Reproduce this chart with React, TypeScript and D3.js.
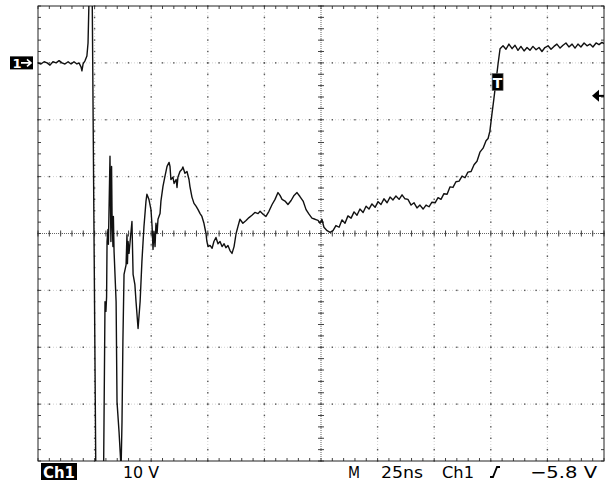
import React from 'react';
import * as d3 from 'd3';

// trace of channel 1, [time ns from left edge, volts]
const preTrigger: [number, number][] = [
  [0, 0], [1.3, -0.2], [2.7, 0.2], [4.0, 0], [5.3, -0.4], [6.6, 0.2], [8.0, 0], [9.3, 0.4],
  [10.6, 0], [11.9, -0.2], [13.3, 0.2], [14.6, -0.2], [15.9, 0.2], [17.2, -0.2], [18.1, 0],
  [19.0, -0.7], [19.4, -1.4], [19.9, -0.2], [20.8, 0.4], [21.6, 1.2], [22.1, 3.5],
];
const ringing: [number, number][] = [
  [22.7, 14], [23.9, 14], [25.6, -75], [28.9, -75], [29.6, -42.0], [30.0, -43.7], [30.3, -41.1],
  [30.5, -31.4], [30.9, -29.3], [31.1, -31.9], [31.8, -16.4], [32.2, -31.4], [32.5, -18.2],
  [32.7, -26.5], [33.1, -32.3], [33.3, -27.0], [33.6, -33.2], [34.5, -42.0], [34.9, -59.6],
  [35.8, -64.9], [36.7, -71.3], [37.1, -63.2], [37.5, -49.0], [38.0, -37.2], [38.9, -35.5],
  [39.3, -30.2], [39.5, -35.3], [39.8, -31.4], [40.2, -33.5], [41.1, -29.6], [41.5, -27.9],
  [42.0, -37.2], [42.8, -39.0], [43.3, -42.0], [44.2, -46.7], [45.1, -42.0], [45.9, -34.9],
  [46.8, -28.8], [47.7, -24.3], [48.1, -23.1], [49.0, -24.0], [49.9, -25.8], [50.4, -28.8],
  [50.8, -32.8], [51.2, -29.6], [51.7, -32.3], [52.1, -28.2], [52.6, -30.0], [53.0, -27.5],
];
const recovery: [number, number][] = [
  [53.9, -26.5], [54.3, -24.3], [55.2, -21.7], [56.1, -19.9], [57.0, -18.2], [57.9, -17.5],
  [58.3, -18.2], [58.7, -20.5], [59.6, -20.1], [60.1, -21.2], [61.0, -20.5], [61.4, -21.9],
  [61.8, -20.1], [62.7, -19.1], [63.6, -18.7], [64.0, -18.3], [64.9, -19.4], [65.8, -19.1],
  [66.7, -20.5], [67.1, -21.7], [68.0, -23.6], [68.9, -24.7], [69.8, -25.2], [70.7, -25.8],
  [71.6, -26.5], [72.4, -27.0], [73.3, -28.2], [74.2, -30.0], [74.6, -31.4], [75.1, -32.3],
  [76.0, -32.1], [76.9, -32.6], [77.7, -31.4], [78.6, -30.7], [79.5, -31.8], [80.4, -31.4],
  [81.3, -32.3], [82.2, -31.8], [83.0, -32.5], [83.9, -32.1], [84.8, -33.0], [85.7, -33.5],
  [86.6, -32.3], [87.5, -30.0], [88.3, -28.8], [89.2, -27.5], [90.5, -28.2], [91.9, -27.7],
  [93.2, -27.2], [94.5, -26.8], [95.8, -26.3], [97.2, -26.5], [98.1, -26.1], [99.4, -26.6],
  [100.7, -27.0], [102.0, -26.1], [103.4, -24.9], [104.7, -24.0], [106.0, -22.8], [106.9, -23.3],
  [107.8, -24.0], [109.1, -24.3], [110.4, -24.9], [111.8, -24.2], [113.1, -23.3], [114.4, -22.8],
  [115.7, -23.5], [117.1, -24.3], [118.4, -25.8], [119.7, -26.6], [121.0, -27.3], [122.4, -27.5],
  [123.7, -27.7], [124.6, -28.2], [125.4, -27.5], [126.3, -28.9], [127.7, -29.5], [129.0, -29.8],
];
const settle: [number, number][] = [
  [130.3, -29.5], [131.6, -28.6], [133.0, -28.9], [134.3, -27.6], [135.6, -28.2], [136.9, -26.9],
  [138.3, -27.3], [139.6, -26.2], [140.9, -26.8], [142.2, -25.7], [143.6, -26.3], [144.9, -25.2],
  [146.2, -25.7], [147.5, -24.8], [148.9, -25.4], [150.2, -24.4], [151.5, -24.9], [152.8, -23.9],
  [154.2, -24.6], [155.5, -23.6], [156.8, -24.1], [158.1, -23.4], [159.5, -24.0], [160.8, -23.2],
  [162.1, -23.9], [163.4, -24.0], [164.8, -25.0], [166.1, -24.6], [167.4, -25.5], [168.7, -25.0],
  [170.1, -25.7], [171.4, -25.0], [172.7, -25.3], [174.0, -24.5], [175.4, -24.6], [176.7, -23.7],
  [178.0, -24.0], [179.3, -23.0], [180.7, -23.1], [182.0, -21.8], [183.3, -21.9], [184.6, -20.9],
  [186.0, -20.8], [187.3, -19.9], [188.6, -20.2], [189.9, -19.2], [191.3, -19.1], [192.6, -17.9],
  [193.9, -17.3], [195.2, -15.7], [196.6, -15.0], [197.9, -13.7], [198.8, -13.3], [199.6, -12.0],
];
const edge: [number, number][] = [
  [200.5, -9.0], [201.4, -6.2], [202.3, -3.2], [203.2, -0.2], [204.1, 2.5],
];
const plateau: [number, number][] = [
  [205.4, 3.0], [206.7, 2.4], [208.0, 3.3], [209.4, 2.5], [210.7, 3.1], [212.0, 2.2], [213.3, 2.9],
  [214.7, 2.1], [216.0, 2.7], [217.3, 2.2], [218.6, 2.9], [220.0, 2.3], [221.3, 2.7], [222.6, 2.0],
  [223.9, 2.7], [225.3, 3.0], [226.6, 2.4], [227.9, 2.9], [229.2, 3.3], [230.6, 2.6], [231.9, 3.1],
  [233.2, 3.5], [234.5, 2.8], [235.9, 3.3], [237.2, 2.6], [238.5, 3.3], [239.8, 2.8], [241.2, 3.5],
  [242.5, 3.0], [243.8, 3.3], [245.1, 2.8], [246.5, 3.5], [247.8, 3.2], [249.1, 3.6], [250, 3.4],
];

const timeDomain = [0, 250]; // 25 ns/div
const voltDomain = [-70, 10]; // 10 V/div
const triggerNs = 203;
const triggerLevel = -5.8;

const bottomLabels = [
  { text: '10 V', x: 123, len: 36 },
  { text: 'M', x: 348, len: 12 },
  { text: '25ns', x: 381, len: 42 },
  { text: 'Ch1', x: 442, len: 32 },
  { text: '\u22125.8 V', x: 530, len: 67 },
];

const W = 608, H = 483;
const L = 38, R = 604, T = 6, B = 461;

export default function App() {
  const trace = [...preTrigger, ...ringing, ...recovery, ...settle, ...edge, ...plateau];
  const x = d3.scaleLinear().domain(timeDomain).range([L, R]);
  const y = d3.scaleLinear().domain(voltDomain).range([B, T]);
  const line = d3.line<[number, number]>().x(d => x(d[0])).y(d => y(d[1]));

  const majorX = d3.range(25, 250, 25);
  const majorY = d3.range(-60, 10, 10);
  const minorX = d3.range(0, 250.01, 5);
  const minorY = d3.range(-70, 10.01, 2);
  const cx = x(125), cy = y(-30);

  const font = 'DejaVu Sans, sans-serif';

  return (
    <div style={{ position: 'absolute', left: 0, top: 0 }}>
      <svg width={W} height={H} style={{ display: 'block', background: '#fff' }}>
        <defs>
          <clipPath id="screen">
            <rect x={L} y={T} width={R - L} height={B - T} />
          </clipPath>
        </defs>

        {/* graticule */}
        <g>
          {majorX.filter(v => v !== 125).map(v => (
            <line key={'gx' + v} x1={x(v)} x2={x(v)} y1={T} y2={B} stroke="#d2d2d2" strokeDasharray="1 2" />
          ))}
          {majorY.filter(v => v !== -30).map(v => (
            <line key={'gy' + v} x1={L} x2={R} y1={y(v)} y2={y(v)} stroke="#d2d2d2" strokeDasharray="1 2" />
          ))}
          {majorX.map(v => minorY.map(m => (
            <rect key={'dx' + v + '_' + m} x={x(v) - 0.7} y={y(m) - 0.7} width={1.4} height={1.4} fill="#555" />
          )))}
          {majorY.map(v => minorX.map(m => (
            <rect key={'dy' + v + '_' + m} x={x(m) - 0.7} y={y(v) - 0.7} width={1.4} height={1.4} fill="#555" />
          )))}
          <line x1={cx} x2={cx} y1={T} y2={B} stroke="#666" strokeDasharray="1 1" />
          <line x1={L} x2={R} y1={cy} y2={cy} stroke="#666" strokeDasharray="1 1" />
          {minorX.map(m => (
            <g key={'tx' + m} stroke="#444">
              <line x1={x(m)} x2={x(m)} y1={cy - 3} y2={cy + 3} />
              <line x1={x(m)} x2={x(m)} y1={T} y2={T + 3} />
              <line x1={x(m)} x2={x(m)} y1={B - 3} y2={B} />
            </g>
          ))}
          {minorY.map(m => (
            <g key={'ty' + m} stroke="#444">
              <line x1={cx - 3} x2={cx + 3} y1={y(m)} y2={y(m)} />
              <line x1={L} x2={L + 3} y1={y(m)} y2={y(m)} />
              <line x1={R - 3} x2={R} y1={y(m)} y2={y(m)} />
            </g>
          ))}
          <rect x={L} y={T} width={R - L} height={B - T} fill="none" stroke="#222" strokeWidth={1} />
        </g>

        {/* waveform */}
        <path d={line(trace) || ''} fill="none" stroke="#111" strokeWidth={1.4} clipPath="url(#screen)" strokeLinejoin="round" />

        {/* ground marker */}
        <g transform={`translate(0,${y(0)})`}>
          <rect x={10} y={-6.5} width={23} height={13} fill="#000" />
          <text x={12.5} y={5} fill="#fff" fontFamily={font} fontSize={13} fontWeight="bold">1</text>
          <path d="M21,0 H31 M27,-3.5 L31,0 L27,3.5" stroke="#fff" strokeWidth={1.6} fill="none" />
        </g>

        {/* trigger position marker */}
        <g transform={`translate(${x(triggerNs)},82)`}>
          <rect x={-5.5} y={-8.5} width={11} height={17} fill="#000" stroke="#666" strokeWidth={0.6} />
          <text x={0} y={5.5} textAnchor="middle" fill="#fff" fontFamily={font} fontSize={14} fontWeight="bold">T</text>
        </g>

        {/* trigger level arrow */}
        <g transform={`translate(${R},${y(triggerLevel)})`}>
          <path d="M-12,0 L-5,-6 L-5,6 Z" fill="#000" />
          <line x1={-6} x2={0} y1={0} y2={0} stroke="#000" strokeWidth={2} />
        </g>

        {/* readout */}
        <rect x={41} y={463} width={36} height={17} fill="#000" />
        <text x={43} y={478} fill="#fff" fontFamily={font} fontSize={16} fontWeight="bold" textLength={32} lengthAdjust="spacingAndGlyphs">Ch1</text>
        {bottomLabels.map(d => (
          <text key={d.text} x={d.x} y={478} fill="#000" fontFamily={font} fontSize={16} textLength={d.len} lengthAdjust="spacingAndGlyphs">{d.text}</text>
        ))}
        <path d="M490,477 H493 L497,467 H500" stroke="#000" strokeWidth={1.8} fill="none" />
      </svg>
    </div>
  );
}
